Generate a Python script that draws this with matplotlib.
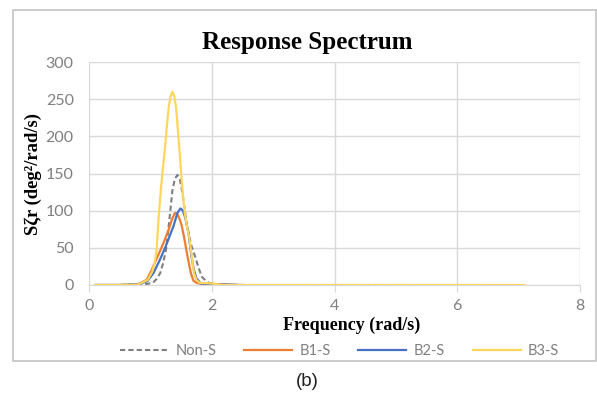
import matplotlib
matplotlib.use("Agg")
import matplotlib.pyplot as plt
from matplotlib.patches import Rectangle

# frequency (rad/s) / spectral values
non_s_f = [0.1, 0.5, 0.8, 0.95, 1.04, 1.10, 1.16, 1.21, 1.26, 1.31, 1.36, 1.40, 1.44, 1.48, 1.52, 1.59, 1.66,
           1.73, 1.79, 1.84, 1.90, 1.95, 2.1, 2.5, 6.45]
non_s_v = [0, 0, 0.5, 1.5, 3, 8, 16, 30, 50, 88, 128, 143, 148, 142, 125, 83, 55,
           38, 22, 11, 6, 3, 0.5, 0, 0]

b1_f = [0.1, 0.5, 0.8, 0.94, 1.02, 1.10, 1.18, 1.24, 1.30, 1.35, 1.40, 1.44, 1.48, 1.51, 1.55, 1.58, 1.62,
        1.66, 1.70, 1.75, 1.80, 2.0, 2.4]
b1_v = [0, 0, 1, 7, 20, 35, 50, 62, 75, 88, 97, 95, 88, 80, 64, 50, 32,
        16, 6, 3, 2, 1.5, 0]

b2_f = [0.1, 0.5, 0.8, 0.95, 1.05, 1.15, 1.24, 1.31, 1.38, 1.44, 1.49, 1.53, 1.57, 1.62, 1.67, 1.71,
        1.75, 1.82, 2.0, 2.5]
b2_v = [0, 0, 1, 5, 16, 33, 50, 65, 80, 97, 103, 100, 90, 70, 38, 20,
        9, 2, 1, 0]

b3_f = [0.1, 0.5, 0.8, 0.96, 1.03, 1.07, 1.10, 1.13, 1.17, 1.21, 1.24, 1.27, 1.30, 1.33, 1.36, 1.39, 1.42,
        1.47, 1.52, 1.56, 1.60, 1.64, 1.68, 1.71, 1.75, 1.80, 2.0, 2.2, 7.1]
b3_v = [0, 0, 0.5, 7, 18, 30, 45, 85, 128, 162, 186, 215, 240, 254, 260, 254, 238,
        186, 130, 97, 77, 60, 35, 16, 7, 3, 2, 0, 0]

x_ticks = [0, 2, 4, 6, 8]
y_ticks = [0, 50, 100, 150, 200, 250, 300]

W, H = 597, 394
fig = plt.figure(figsize=(W / 100, H / 100), dpi=100)

# chart area border
fig.patches.append(Rectangle((13 / W, 1 - 361 / H), (596 - 13) / W, (361 - 10) / H,
                             transform=fig.transFigure, fill=False,
                             edgecolor="#c4c4c4", linewidth=1.2))

ax = fig.add_axes([89 / W, 1 - 285 / H, (580 - 89) / W, (285 - 62) / H])

grey = "#7f7f7f"
ax.plot(non_s_f, non_s_v, color=grey, linestyle=(0, (2.5, 1.5)), linewidth=1.5, label="Non-S")
ax.plot(b1_f, b1_v, color="#ED7D31", linewidth=1.6, label="B1-S")
ax.plot(b2_f, b2_v, color="#4472C4", linewidth=1.6, label="B2-S")
ax.plot(b3_f, b3_v, color="#FFD65C", linewidth=1.6, label="B3-S")

ax.set_xlim(0, 8)
ax.set_ylim(0, 300)
ax.set_xticks(x_ticks)
ax.set_yticks(y_ticks)
ax.grid(True, color="#d9d9d9", linewidth=1.0)
ax.set_axisbelow(True)
for s in ["top", "right", "left"]:
    ax.spines[s].set_visible(False)
ax.spines["bottom"].set_color("#d9d9d9")
ax.tick_params(axis="y", length=0, pad=11, labelcolor=grey, labelsize=11.5)
ax.tick_params(axis="x", length=5, color="#d9d9d9", pad=5, labelcolor=grey, labelsize=11.5)
for lab in ax.get_xticklabels() + ax.get_yticklabels():
    lab.set_family("Lato")

serif = "Liberation Serif"
fig.text(307 / W, 1 - 42 / H, "Response Spectrum", ha="center", va="center",
         family=serif, weight="bold", fontsize=18)
fig.text(352 / W, 1 - 325 / H, "Frequency (rad/s)", ha="center", va="center",
         family=serif, weight="bold", fontsize=13)
fig.text(33 / W, 1 - 173.5 / H, "S\u03b6r (deg\u00b2/rad/s)", ha="center", va="center",
         rotation=90, family=serif, weight="bold", fontsize=13.4)

leg = fig.legend(loc="center", bbox_to_anchor=(339.5 / W, 1 - 351 / H), ncol=4,
                 frameon=False, handlelength=3.3, handletextpad=0.5, columnspacing=1.9,
                 prop={"family": "Lato", "size": 10.5})
for t in leg.get_texts():
    t.set_color(grey)

fig.text(307 / W, 1 - 382 / H, "(b)", ha="center", va="center",
         family="Liberation Sans", fontsize=13.5, color="#222222")

fig.savefig("out.png", dpi=100)
